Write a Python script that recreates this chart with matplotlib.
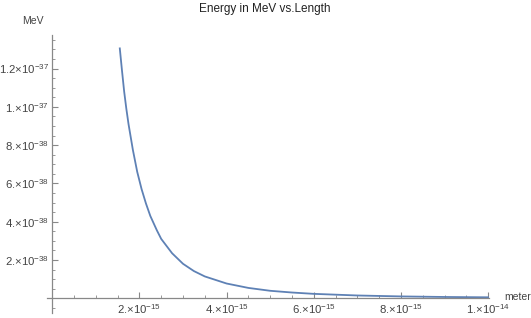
import numpy as np
import matplotlib
matplotlib.use('Agg')
import matplotlib.pyplot as plt
from matplotlib.ticker import MultipleLocator

plt.rcParams['font.family'] = ['Liberation Sans', 'DejaVu Sans']
plt.rcParams['mathtext.fontset'] = 'custom'
plt.rcParams['mathtext.rm'] = 'Liberation Sans'
plt.rcParams['mathtext.it'] = 'Liberation Sans'

# data (length in 1e-15 m, energy in 1e-38 MeV)
length = [1.55, 1.6, 1.65, 1.7, 1.75, 1.85, 1.95, 2.05, 2.15, 2.25, 2.4, 2.5,
          2.75, 3.0, 3.25, 3.5, 4.0, 4.5, 5.0, 5.5, 6.0, 7.0, 8.0, 9.0, 10.0]
energy = [13.05, 11.9, 10.8, 9.9, 9.1, 7.75, 6.6, 5.7, 4.95, 4.3, 3.55, 3.1,
          2.35, 1.8, 1.42, 1.14, 0.77, 0.54, 0.39, 0.30, 0.23, 0.145, 0.096,
          0.067, 0.049]

xticks = [2e-15, 4e-15, 6e-15, 8e-15, 1e-14]
xlabels = ['2.', '4.', '6.', '8.', '1.']
xexps = ['-15', '-15', '-15', '-15', '-14']
yticks = [2e-38, 4e-38, 6e-38, 8e-38, 1e-37, 1.2e-37]
ylabels = ['2.', '4.', '6.', '8.', '1.', '1.2']
yexps = ['-38', '-38', '-38', '-38', '-37', '-37']

x = np.array(length) * 1e-15
y = np.array(energy) * 1e-38

fig = plt.figure(figsize=(5.31, 3.18), dpi=100)
ax = fig.add_axes([47/531, 1 - 313/318, (489 - 47)/531, (313 - 35)/318])
ax.plot(x, y, color='#5E81B5', lw=1.3)

ax.set_xlim(-0.12e-15, 1.002e-14)
ax.set_ylim(-0.77e-38, 13.75e-38)

for s in ['top', 'right']:
    ax.spines[s].set_visible(False)
ax.spines['left'].set_position(('data', 0))
ax.spines['bottom'].set_position(('data', 0))
for s in ['left', 'bottom']:
    ax.spines[s].set_color('#888888')
    ax.spines[s].set_linewidth(0.9)

ax.set_xticks(xticks)
ax.set_xticklabels(['%s\u00d710$^{%s}$' % (a, b) for a, b in zip(xlabels, xexps)])
ax.set_yticks(yticks)
ax.set_yticklabels(['%s\u00d710$^{%s}$' % (a, b) for a, b in zip(ylabels, yexps)])
ax.xaxis.set_minor_locator(MultipleLocator(0.5e-15))
ax.yaxis.set_minor_locator(MultipleLocator(0.5e-38))
ax.tick_params(which='major', direction='in', length=4, width=0.8, color='#888888',
               labelsize=8.2, labelcolor='#444444')
ax.tick_params(which='minor', direction='in', length=2.2, width=0.6, color='#888888')
ax.tick_params(axis='y', pad=2)
ax.tick_params(axis='x', pad=3)

fig.text(265/531, 1 - 9/318, 'Energy in MeV vs.Length', ha='center', va='center',
         fontsize=8.5, color='#222222')
fig.text(33/531, 1 - 21/318, 'MeV', ha='center', va='center', fontsize=7.5, color='#444444')
fig.text(504/531, 1 - 297/318, 'meter', ha='left', va='center', fontsize=7.5, color='#444444')

fig.savefig('out.png', dpi=100)
